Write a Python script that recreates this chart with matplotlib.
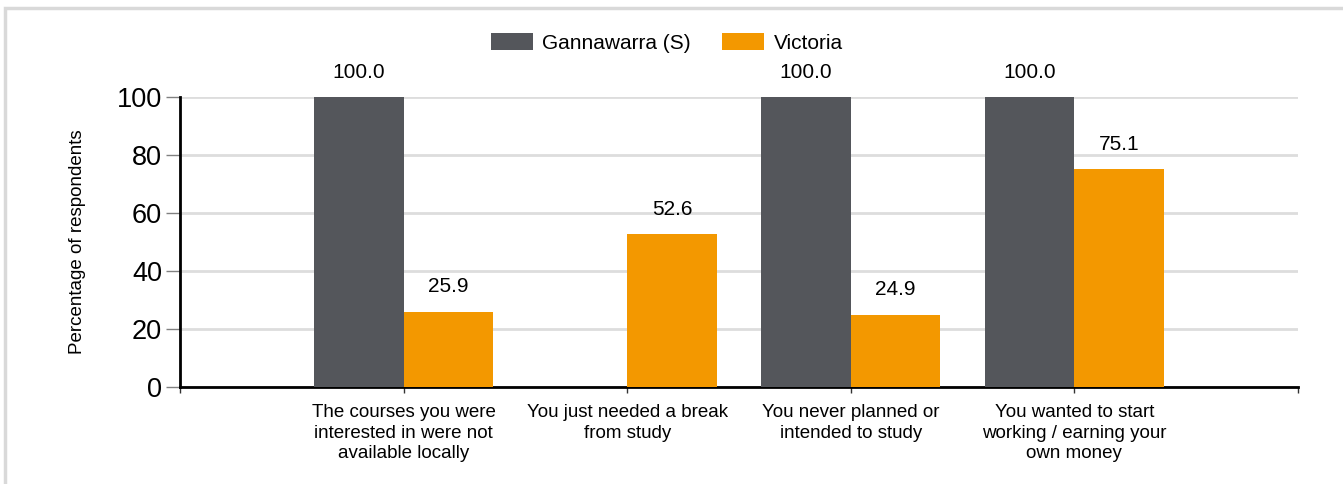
import numpy as np
import matplotlib.pyplot as plt
from matplotlib.patches import Rectangle

plt.rcParams['font.family'] = ['Liberation Sans', 'DejaVu Sans']

# Data
categories = [
    'The courses you were\ninterested in were not\navailable locally',
    'You just needed a break\nfrom study',
    'You never planned or\nintended to study',
    'You wanted to start\nworking / earning your\nown money',
]
gannawarra = [100.0, None, 100.0, 100.0]
victoria = [25.9, 52.6, 24.9, 75.1]
series_names = ['Gannawarra (S)', 'Victoria']
colors = ['#54565b', '#f39800']

fig = plt.figure(figsize=(13.43, 4.84), dpi=100)
ax = fig.add_axes([180/1343, 97/484, 1118/1343, 290/484])

# light frame around the whole chart (right and bottom edges fall outside the image)
fig.patches.append(Rectangle((5/1343, -0.1), 1.1, 1.1 - 8/484, transform=fig.transFigure,
                             fill=False, edgecolor='#d9d9d9', linewidth=2.5))

x = np.arange(1, len(categories) + 1)
w = 0.4

g_vals = [v if v is not None else 0 for v in gannawarra]
b1 = ax.bar(x - w/2, g_vals, w, color=colors[0], label=series_names[0], zorder=3)
b2 = ax.bar(x + w/2, victoria, w, color=colors[1], label=series_names[1], zorder=3)

for xi, v in zip(x, gannawarra):
    if v is not None:
        ax.annotate(f'{v:.1f}', (xi - w/2, v), xytext=(0, 18), textcoords='offset points',
                    ha='center', va='center', fontsize=15)
for xi, v in zip(x, victoria):
    ax.annotate(f'{v:.1f}', (xi + w/2, v), xytext=(0, 18), textcoords='offset points',
                ha='center', va='center', fontsize=15)

ax.set_xlim(0, 5)
ax.set_ylim(0, 100)
ax.set_yticks([0, 20, 40, 60, 80, 100])
ax.tick_params(axis='y', labelsize=19.5, length=10, width=1, color='#808080', pad=3)
ax.set_xticks(np.arange(0, 6))
ax.set_xticklabels([''] + categories + [''], fontsize=13.5, linespacing=1.3)
ax.tick_params(axis='x', length=4, width=1, color='#333333', pad=8)

ax.yaxis.grid(True, color='#dddddd', linewidth=2, zorder=0)
ax.set_axisbelow(True)
for s in ['top', 'right']:
    ax.spines[s].set_visible(False)
ax.spines['left'].set_linewidth(2)
ax.spines['bottom'].set_linewidth(2)

ax.set_ylabel('Percentage of respondents', fontsize=13.5, labelpad=22)

fig.legend(handles=[b1, b2], loc='center', bbox_to_anchor=(667/1343, 1 - 43/484),
           ncol=2, frameon=False, fontsize=15, handlelength=2.0, handleheight=0.9,
           columnspacing=1.5, handletextpad=0.45)

fig.savefig('out.png', dpi=100)
